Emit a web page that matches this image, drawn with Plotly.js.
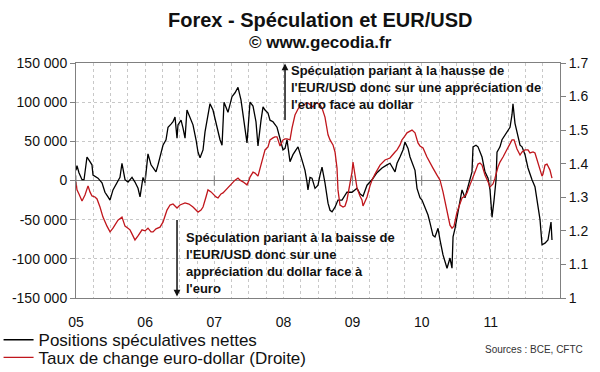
<!DOCTYPE html>
<html>
<head>
<meta charset="utf-8">
<script src="https://cdn.plot.ly/plotly-3.0.1.min.js"></script>
<style>html,body{margin:0;padding:0;background:#fff;}#chart{width:600px;height:372px;}</style>
</head>
<body>
<div id="chart"></div>
<script>
// Time in decimal years
const blackX = [2005.000,2005.014,2005.043,2005.087,2005.116,2005.145,2005.159,2005.188,2005.231,2005.246,2005.289,2005.318,2005.376,2005.419,2005.463,2005.492,2005.535,2005.593,2005.636,2005.665,2005.709,2005.752,2005.810,2005.853,2005.897,2005.926,2005.969,2005.998,
2006.041,2006.085,2006.114,2006.157,2006.186,2006.215,2006.258,2006.302,2006.331,2006.374,2006.403,2006.432,2006.461,2006.475,2006.519,2006.548,2006.577,2006.605,2006.649,2006.692,2006.736,2006.765,2006.794,2006.837,2006.866,2006.895,2006.938,2006.981,
2007.039,2007.083,2007.112,2007.141,2007.198,2007.256,2007.300,2007.343,2007.386,2007.415,2007.444,2007.473,2007.517,2007.560,2007.603,2007.632,2007.676,2007.705,2007.734,2007.777,2007.806,2007.849,2007.907,2007.951,2007.994,
2008.023,2008.052,2008.095,2008.138,2008.182,2008.211,2008.269,2008.312,2008.341,2008.355,2008.384,2008.413,2008.457,2008.500,2008.529,2008.558,2008.601,2008.645,2008.674,2008.703,2008.746,2008.789,2008.847,2008.919,2008.992,
2009.064,2009.107,2009.151,2009.209,2009.281,2009.353,2009.426,2009.498,2009.541,2009.614,2009.643,2009.686,2009.729,2009.758,2009.802,2009.831,2009.874,2009.903,2009.932,2009.975,
2010.004,2010.048,2010.091,2010.120,2010.163,2010.192,2010.236,2010.265,2010.308,2010.366,2010.409,2010.438,2010.453,2010.482,2010.525,2010.583,2010.626,2010.670,2010.727,2010.742,2010.785,2010.814,2010.843,2010.872,2010.915,2010.959,2010.988,
2011.017,2011.046,2011.075,2011.089,2011.132,2011.161,2011.205,2011.248,2011.277,2011.306,2011.320,2011.349,2011.393,2011.422,2011.451,2011.494,2011.537,2011.566,2011.595,2011.638,2011.667,2011.711,2011.740,2011.783,2011.826,2011.855,2011.870,2011.884];
const blackY = [13000,19000,10000,1000,1000,20000,30000,26000,20000,7000,4000,3000,-3000,-15000,-21000,-25000,-12000,-3000,4000,22000,1000,-2000,4000,-2000,-10000,-21000,4000,-3000,
34000,20000,16000,11000,20000,30000,45000,52000,68000,72000,75000,81000,54000,71000,77000,67000,54000,90000,81000,71000,52000,36000,29000,39000,62000,77000,98000,90000,
67000,52000,45000,100000,87000,107000,112000,119000,103000,86000,71000,48000,100000,95000,75000,44000,77000,94000,90000,86000,77000,75000,68000,52000,39000,
41000,52000,24000,33000,39000,43000,26000,13000,-2000,-12000,4000,3000,-10000,-6000,7000,17000,-3000,-29000,-38000,-40000,-34000,-25000,-25000,-15000,-15000,
-10000,-17000,-20000,-6000,1000,10000,16000,20000,22000,11000,22000,30000,39000,49000,41000,30000,20000,13000,-10000,-22000,
-25000,-34000,-44000,-54000,-70000,-72000,-61000,-76000,-95000,-112000,-99000,-112000,-72000,-61000,-40000,-12000,-22000,-6000,11000,43000,45000,43000,36000,30000,11000,3000,-12000,
-47000,-25000,1000,36000,43000,52000,58000,64000,68000,84000,98000,73000,54000,45000,43000,33000,16000,7000,1000,-8000,-25000,-50000,-82000,-80000,-76000,-57000,-53000,-76000];

const redX = [2005.000,2005.014,2005.043,2005.087,2005.130,2005.174,2005.202,2005.231,2005.275,2005.304,2005.347,2005.390,2005.448,2005.492,2005.535,2005.564,2005.607,2005.665,2005.709,2005.752,2005.781,2005.824,2005.853,2005.897,2005.955,2005.998,
2006.041,2006.085,2006.114,2006.157,2006.215,2006.258,2006.316,2006.360,2006.403,2006.461,2006.504,2006.577,2006.634,2006.692,2006.736,2006.765,2006.808,2006.837,2006.880,2006.909,2006.953,2006.981,
2007.025,2007.054,2007.097,2007.126,2007.169,2007.198,2007.242,2007.271,2007.300,2007.343,2007.372,2007.415,2007.444,2007.473,2007.502,2007.517,2007.560,2007.589,2007.632,2007.661,2007.705,2007.734,2007.777,2007.806,2007.849,2007.878,2007.907,2007.951,2007.994,
2008.023,2008.052,2008.095,2008.124,2008.167,2008.211,2008.240,2008.283,2008.312,2008.355,2008.384,2008.428,2008.457,2008.486,2008.529,2008.558,2008.601,2008.645,2008.674,2008.717,2008.746,2008.775,2008.789,2008.818,2008.862,2008.891,2008.919,2008.948,2008.992,
2009.006,2009.035,2009.064,2009.107,2009.136,2009.151,2009.180,2009.209,2009.252,2009.281,2009.324,2009.353,2009.397,2009.469,2009.541,2009.614,2009.643,2009.686,2009.715,2009.758,2009.787,2009.831,2009.860,2009.903,2009.946,2009.975,
2010.019,2010.076,2010.120,2010.163,2010.221,2010.265,2010.308,2010.351,2010.380,2010.409,2010.438,2010.467,2010.510,2010.554,2010.583,2010.626,2010.655,2010.698,2010.727,2010.771,2010.814,2010.843,2010.872,2010.915,2010.959,2010.988,
2011.031,2011.060,2011.103,2011.132,2011.176,2011.205,2011.248,2011.277,2011.306,2011.335,2011.378,2011.422,2011.451,2011.494,2011.537,2011.566,2011.610,2011.638,2011.667,2011.711,2011.740,2011.754,2011.783,2011.812,2011.841,2011.855,2011.884];
const redY = [1.346,1.322,1.310,1.289,1.307,1.334,1.316,1.304,1.301,1.295,1.271,1.241,1.214,1.197,1.208,1.217,1.232,1.241,1.214,1.208,1.203,1.185,1.173,1.185,1.203,1.200,
1.208,1.197,1.197,1.206,1.211,1.226,1.262,1.277,1.280,1.268,1.277,1.283,1.280,1.271,1.262,1.256,1.262,1.271,1.301,1.322,1.316,1.310,
1.301,1.298,1.310,1.313,1.322,1.328,1.337,1.346,1.351,1.357,1.351,1.346,1.340,1.337,1.351,1.360,1.375,1.372,1.363,1.387,1.417,1.441,1.450,1.471,1.477,1.480,1.480,1.453,1.471,
1.474,1.474,1.471,1.506,1.545,1.563,1.572,1.572,1.578,1.581,1.575,1.569,1.578,1.581,1.575,1.566,1.539,1.486,1.471,1.456,1.435,1.387,1.322,1.277,1.271,1.274,1.292,1.322,1.375,
1.405,1.366,1.328,1.304,1.292,1.274,1.286,1.301,1.334,1.351,1.369,1.381,1.396,1.411,1.417,1.435,1.441,1.456,1.471,1.483,1.492,1.497,1.500,1.492,1.462,1.453,
1.447,1.420,1.402,1.387,1.366,1.351,1.316,1.277,1.247,1.217,1.208,1.214,1.256,1.283,1.298,1.304,1.313,1.337,1.351,1.375,1.399,1.402,1.396,1.366,1.346,1.331,
1.340,1.357,1.390,1.405,1.420,1.432,1.447,1.459,1.471,1.471,1.444,1.426,1.435,1.441,1.441,1.432,1.435,1.432,1.411,1.381,1.363,1.369,1.396,1.399,1.387,1.381,1.357];

const yearTicks = [2005,2006,2007,2008,2009,2010,2011];
const yearLabels = ['05','06','07','08','09','10','11'];
const leftTicks = [-150000,-100000,-50000,0,50000,100000,150000];
const leftLabels = ['-150 000','-100 000','-50 000','0','50 000','100 000','150 000'];

const FONT = 'Arial, "Liberation Sans", sans-serif';
const AX = '#808080';
const GRID = '#c8c8c8';

const traces = [
  {x: blackX, y: blackY, type: 'scatter', mode: 'lines', name: 'Positions spéculatives nettes',
   line: {color: '#000000', width: 1.3}, yaxis: 'y', legend: 'legend'},
  {x: redX, y: redY, type: 'scatter', mode: 'lines', name: 'Taux de change euro-dollar (Droite)',
   line: {color: '#c0161c', width: 1.3}, yaxis: 'y2', legend: 'legend2'}
];

const yearTickShapes = yearTicks.map(v => ({type: 'line', xref: 'x', yref: 'y', x0: v, x1: v, y0: -6500, y1: 6500,
  line: {color: AX, width: 1}}));

const legendStyle = {xanchor: 'left', yanchor: 'top', font: {family: FONT, size: 17, color: '#111'},
  bgcolor: 'rgba(0,0,0,0)', tracegroupgap: 0, itemwidth: 30};

const layout = {
  width: 600, height: 372,
  margin: {l: 76, r: 40, t: 63, b: 74, pad: 0, autoexpand: false},
  paper_bgcolor: '#ffffff', plot_bgcolor: '#ffffff',
  font: {family: FONT, size: 14, color: '#111'},
  showlegend: true,
  legend: Object.assign({x: -0.16, y: -0.103}, legendStyle),
  legend2: Object.assign({x: -0.16, y: -0.178}, legendStyle),
  xaxis: {range: [2005, 2012], tickmode: 'array', tickvals: yearTicks, ticktext: yearLabels,
          showgrid: true, gridcolor: GRID, griddash: 'dot', gridwidth: 1,
          minor: {dtick: 0.25, tick0: 2005, showgrid: true, gridcolor: GRID, griddash: 'dot', gridwidth: 1},
          showline: true, linecolor: AX, linewidth: 1, mirror: true, ticks: '', ticklabelstandoff: 11,
          zeroline: false, tickfont: {family: FONT, size: 14, color: '#111'}, fixedrange: true},
  yaxis: {range: [-150000, 150000], tickmode: 'array', tickvals: leftTicks, ticktext: leftLabels,
          showgrid: true, gridcolor: GRID, griddash: 'dot', gridwidth: 1,
          zeroline: true, zerolinecolor: AX, zerolinewidth: 1,
          showline: true, linecolor: AX, linewidth: 1, ticks: 'outside', ticklen: 5, tickcolor: AX,
          tickfont: {family: FONT, size: 14, color: '#111'}, fixedrange: true},
  yaxis2: {range: [1, 1.7], dtick: 0.1, tick0: 1, overlaying: 'y', side: 'right',
           showgrid: false, zeroline: false, showline: true, linecolor: AX, linewidth: 1,
           ticks: 'outside', ticklen: 5, tickcolor: AX,
           tickfont: {family: FONT, size: 14, color: '#111'}, fixedrange: true},
  shapes: yearTickShapes,
  annotations: [
    {xref: 'paper', yref: 'paper', x: 0.506, y: 1.183, xanchor: 'center', yanchor: 'middle', showarrow: false,
     text: '<b>Forex - Spéculation et EUR/USD</b>', font: {family: FONT, size: 20, color: '#111'}},
    {xref: 'paper', yref: 'paper', x: 0.506, y: 1.087, xanchor: 'center', yanchor: 'middle', showarrow: false,
     text: '<b>© www.gecodia.fr</b>', font: {family: FONT, size: 17, color: '#111'}},
    {xref: 'x', yref: 'y', x: 2008.023, y: 149500, ax: 0, ay: 58, showarrow: true, arrowhead: 2, arrowsize: 0.9,
     arrowwidth: 1.5, arrowcolor: '#111', text: ''},
    {xref: 'x', yref: 'y', x: 2008.139, y: 150000, xanchor: 'left', yanchor: 'top', align: 'left', showarrow: false,
     xshift: -4, yshift: 2,
     text: '<b>Spéculation pariant à la hausse de<br>l\'EUR/USD donc sur une appréciation de<br>l\'euro face au dollar</b>',
     font: {family: FONT, size: 13, color: '#111'}},
    {xref: 'x', yref: 'y', x: 2006.461, y: -148000, ax: 0, ay: -78, showarrow: true, arrowhead: 2, arrowsize: 0.9,
     arrowwidth: 1.5, arrowcolor: '#111', text: ''},
    {xref: 'x', yref: 'y', x: 2006.59, y: -60000, xanchor: 'left', yanchor: 'top', align: 'left', showarrow: false,
     xshift: -2,
     text: '<b>Spéculation pariant à la baisse de<br>l\'EUR/USD donc sur une<br>appréciation du dollar face à<br>l\'euro</b>',
     font: {family: FONT, size: 13, color: '#111'}},
    {xref: 'paper', yref: 'paper', x: 1.052, y: -0.218, xanchor: 'right', yanchor: 'middle', showarrow: false,
     text: 'Sources : BCE, CFTC', font: {family: FONT, size: 10, color: '#333'}}
  ]
};

Plotly.newPlot('chart', traces, layout, {displayModeBar: false, staticPlot: true});
</script>
</body>
</html>
